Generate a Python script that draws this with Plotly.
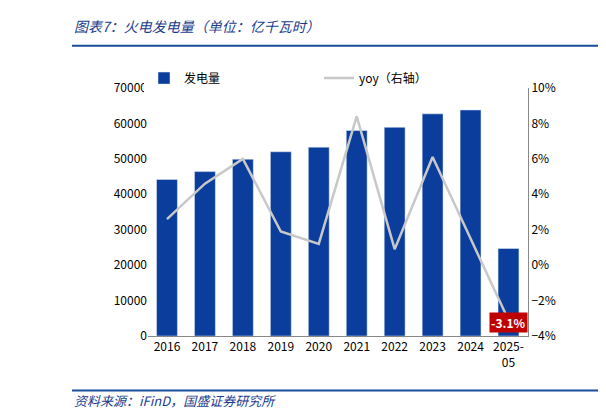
import plotly.graph_objects as go

categories = ["2016","2017","2018","2019","2020","2021","2022","2023","2024","2025-<br>05"]
generation = [44200,46400,49900,52000,53300,58000,58900,62700,63800,24700]
yoy = [2.6,4.6,6.0,1.9,1.2,8.4,0.9,6.1,1.5,-3.1]

fig = go.Figure()
fig.add_trace(go.Bar(x=categories, y=generation, name="发电量", marker_color="#0a3d9c", width=0.55))
fig.add_trace(go.Scatter(x=categories, y=yoy, name="yoy（右轴）", yaxis="y2", mode="lines",
                         line=dict(color="#c8c8c8", width=2.5)))
fig.add_annotation(x=categories[-1], y=yoy[-1], yref="y2", text="<b>-3.1%</b>", showarrow=False,
                   bgcolor="#c00000", font=dict(color="white", size=12), yshift=-2)
fig.update_layout(
    width=606, height=415, margin=dict(l=140, r=86, t=80, b=87),
    paper_bgcolor="white", plot_bgcolor="white",
    font=dict(family="Noto Sans CJK SC", size=12, color="black"),
    showlegend=True,
    legend=dict(orientation="h", x=0.45, xanchor="center", y=1.04, yanchor="middle",
                font=dict(size=12), entrywidthmode="pixels", entrywidth=130),
    xaxis=dict(showline=True, linecolor="#888", ticks="", tickfont=dict(size=12)),
    yaxis=dict(range=[0,70000], dtick=10000, tickformat="d", showgrid=False, showline=False,
               tickfont=dict(size=12)),
    yaxis2=dict(range=[-4,10], dtick=2, overlaying="y", side="right", ticksuffix="%",
                showgrid=False, showline=True, linecolor="#888", tickfont=dict(size=12)),
    bargap=0.45,
)
fig.add_annotation(xref="paper", yref="paper", x=-0.2, y=1.25, xanchor="left", yanchor="middle",
                   text="<i>图表7：火电发电量（单位：亿千瓦时）</i>", showarrow=False,
                   font=dict(size=14, color="#1a3c8c"))
fig.add_shape(type="line", xref="paper", yref="paper", x0=-0.2, x1=1.21, y0=1.17, y1=1.17,
              line=dict(color="#1a4c9c", width=2))
fig.add_shape(type="line", xref="paper", yref="paper", x0=-0.2, x1=1.21, y0=-0.22, y1=-0.22,
              line=dict(color="#1a4c9c", width=2))
fig.add_annotation(xref="paper", yref="paper", x=-0.2, y=-0.26, xanchor="left", yanchor="middle",
                   text="<i>资料来源：iFinD，国盛证券研究所</i>", showarrow=False,
                   font=dict(size=13, color="#1a3c8c"))
fig.write_html("out.html")
